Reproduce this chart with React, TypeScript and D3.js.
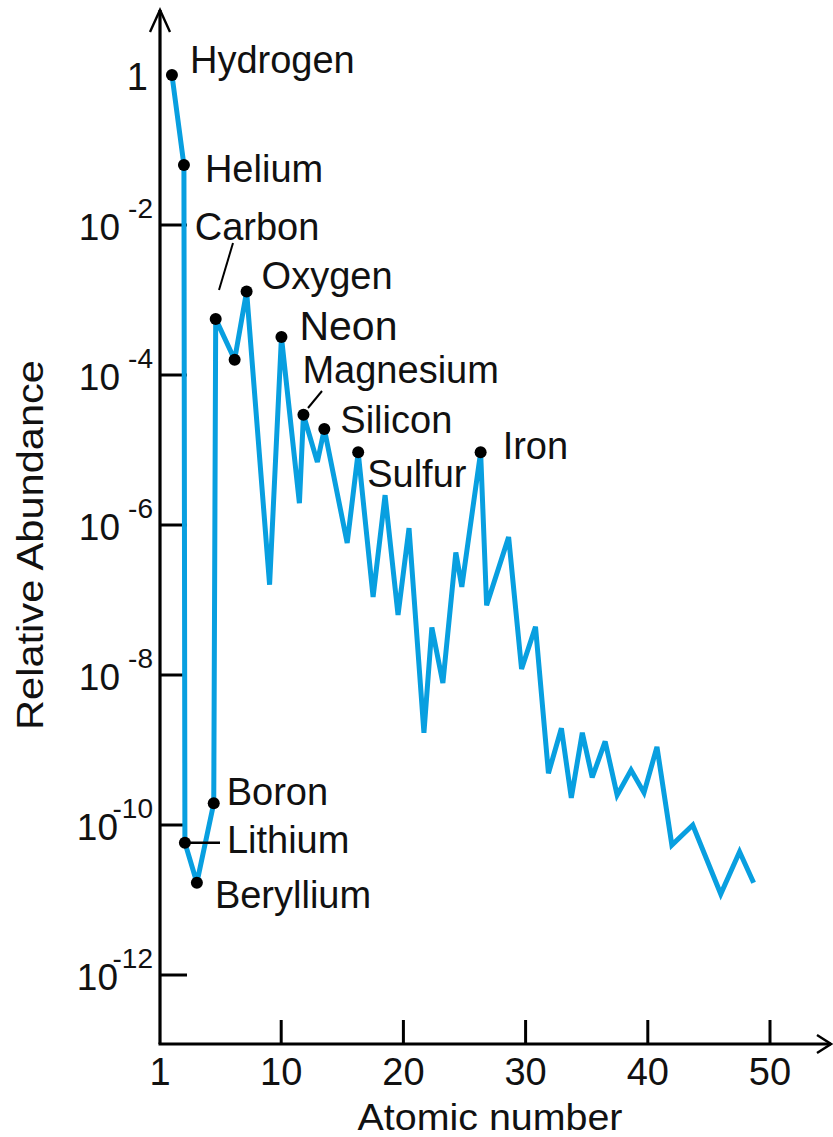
import React from "react";
import * as d3 from "d3";

// Horizontal position of each vertex of the abundance trace (atomic-number units)
const atomicPos = [
  1.06, 2.04, 2.12, 3.1, 4.48, 4.64, 6.19, 7.17, 9.05, 10.02,
  11.49, 11.82, 12.96, 13.53, 15.4, 16.3, 17.52, 18.5, 19.56, 20.46,
  21.68, 22.33, 23.23, 24.29, 24.78, 26.32, 26.81, 28.61, 29.67, 30.81,
  31.87, 32.93, 33.74, 34.64, 35.45, 36.51, 37.49, 38.63, 39.69, 40.75,
  41.97, 43.68, 45.97, 47.51, 48.66,
];

// Relative abundance at each vertex
const abundance = [
  1, 6.3e-2, 5.8e-11, 1.7e-11, 1.95e-10, 5.6e-4, 1.6e-4, 1.3e-3, 1.6e-7, 3.2e-4,
  1.95e-6, 2.95e-5, 6.9e-6, 1.9e-5, 5.75e-7, 9.3e-6, 1.1e-7, 2.5e-6, 6.3e-8, 9.1e-7,
  1.7e-9, 4.3e-8, 7.8e-9, 4.3e-7, 1.5e-7, 9.3e-6, 8.5e-8, 6.9e-7, 1.2e-8, 4.4e-8,
  4.9e-10, 1.95e-9, 2.3e-10, 1.7e-9, 4.3e-10, 1.3e-9, 2.5e-10, 5.4e-10, 2.7e-10, 1.1e-9,
  5.4e-11, 1.0e-10, 1.2e-11, 4.4e-11, 1.7e-11,
];

// Vertices marked with a dot
const markedIdx = [0, 1, 2, 3, 4, 5, 6, 7, 9, 11, 13, 15, 25];

// Named elements and the vertex each name belongs to
const elementNames = [
  "Hydrogen", "Helium", "Carbon", "Oxygen", "Neon", "Magnesium",
  "Silicon", "Sulfur", "Iron", "Boron", "Lithium", "Beryllium",
];
const elementIdx = [0, 1, 5, 7, 9, 11, 13, 15, 25, 4, 2, 3];

// Axis ticks
const xTicks = [0, 10, 20, 30, 40, 50];
const xTickLabels = ["1", "10", "20", "30", "40", "50"];
const yTickExps = [-2, -4, -6, -8, -10, -12];

// Label placement relative to its dot: [dx, dy, fontSize]
const labelLayout: Record<string, [number, number, number]> = {
  Hydrogen: [18, -2, 38],
  Helium: [21, 17, 38],
  Carbon: [-21, -79, 38],
  Oxygen: [15, -2, 38],
  Neon: [18, 3, 41],
  Magnesium: [-1, -32, 38],
  Silicon: [16, 4, 38],
  Sulfur: [9, 35, 38],
  Iron: [22, 7, 38],
  Boron: [13, 2, 38],
  Lithium: [42, 10, 38],
  Beryllium: [18, 25, 38],
};

const W = 833;
const H = 1137;
const FONT = "'Liberation Sans', Arial, sans-serif";
const LINE_COLOR = "#089fe0";

export default function App() {
  const x = d3.scaleLinear().domain([0, 50]).range([159, 770]);
  const y = d3.scaleLog().domain([1e-12, 1]).range([975, 75]);

  const pts = atomicPos.map((p, i) => [x(p), y(abundance[i])] as [number, number]);
  const path = d3.line()(pts) || "";

  const axisX = 160;
  const axisY = 1044;

  return (
    <svg
      width={W}
      height={H}
      style={{ position: "absolute", left: 0, top: 0, background: "#fff" }}
      fontFamily={FONT}
    >
      <rect width={W} height={H} fill="#fff" />

      {/* axes */}
      <line x1={axisX} y1={axisY} x2={axisX} y2={10} stroke="#000" strokeWidth={3.2} />
      <polyline points={`${axisX - 10},32 ${axisX},10 ${axisX + 10},32`} fill="none" stroke="#000" strokeWidth={2.4} />
      <line x1={axisX - 1.5} y1={axisY} x2={831} y2={axisY} stroke="#000" strokeWidth={3.2} />
      <polyline points={`817,1035 831,${axisY} 817,1053`} fill="none" stroke="#000" strokeWidth={2.4} />

      {/* y ticks */}
      {yTickExps.map((e) => (
        <line key={"yt" + e} x1={axisX} x2={187} y1={y(Math.pow(10, e))} y2={y(Math.pow(10, e))} stroke="#000" strokeWidth={3} />
      ))}
      {/* y tick labels */}
      <text x={148} y={y(1) + 15} textAnchor="end" fontSize={38} fill="#111">1</text>
      {yTickExps.map((e) => {
        const yy = y(Math.pow(10, e));
        const twoDigit = Math.abs(e) >= 10;
        return (
          <g key={"yl" + e} fill="#111">
            <text x={twoDigit ? 118 : 120} y={yy + 15} textAnchor="end" fontSize={37}>10</text>
            <text x={153} y={yy - 7} textAnchor="end" fontSize={28}>{`-${Math.abs(e)}`}</text>
          </g>
        );
      })}

      {/* x ticks */}
      {xTicks.slice(1).map((t) => (
        <line key={"xt" + t} x1={x(t)} x2={x(t)} y1={axisY} y2={1020} stroke="#000" strokeWidth={3} />
      ))}
      {xTicks.map((t, i) => (
        <text key={"xl" + t} x={x(t) + (i === 0 ? 1 : 0)} y={1085} textAnchor="middle" fontSize={38} fill="#111">
          {xTickLabels[i]}
        </text>
      ))}

      {/* axis titles */}
      <text x={490} y={1130} textAnchor="middle" fontSize={36} fill="#111" textLength={265} lengthAdjust="spacingAndGlyphs">
        Atomic number
      </text>
      <text
        transform="translate(43,545) rotate(-90)"
        textAnchor="middle"
        fontSize={36}
        fill="#111"
        textLength={370}
        lengthAdjust="spacingAndGlyphs"
      >
        Relative Abundance
      </text>

      {/* abundance trace */}
      <path d={path} fill="none" stroke={LINE_COLOR} strokeWidth={5} strokeLinejoin="miter" strokeMiterlimit={3} />

      {/* leader lines */}
      <line x1={233} y1={243} x2={219} y2={290} stroke="#000" strokeWidth={2} />
      <line x1={322} y1={391} x2={308} y2={408} stroke="#000" strokeWidth={2} />
      <line x1={pts[2][0]} y1={pts[2][1]} x2={220} y2={pts[2][1]} stroke="#000" strokeWidth={2.5} />

      {/* marked points */}
      {markedIdx.map((i) => (
        <circle key={"d" + i} cx={pts[i][0]} cy={pts[i][1]} r={6} fill="#000" />
      ))}

      {/* element labels */}
      {elementNames.map((name, k) => {
        const [dx, dy, fs] = labelLayout[name];
        const p = pts[elementIdx[k]];
        return (
          <text key={name} x={p[0] + dx} y={p[1] + dy} fontSize={fs} fill="#111">
            {name}
          </text>
        );
      })}
    </svg>
  );
}
